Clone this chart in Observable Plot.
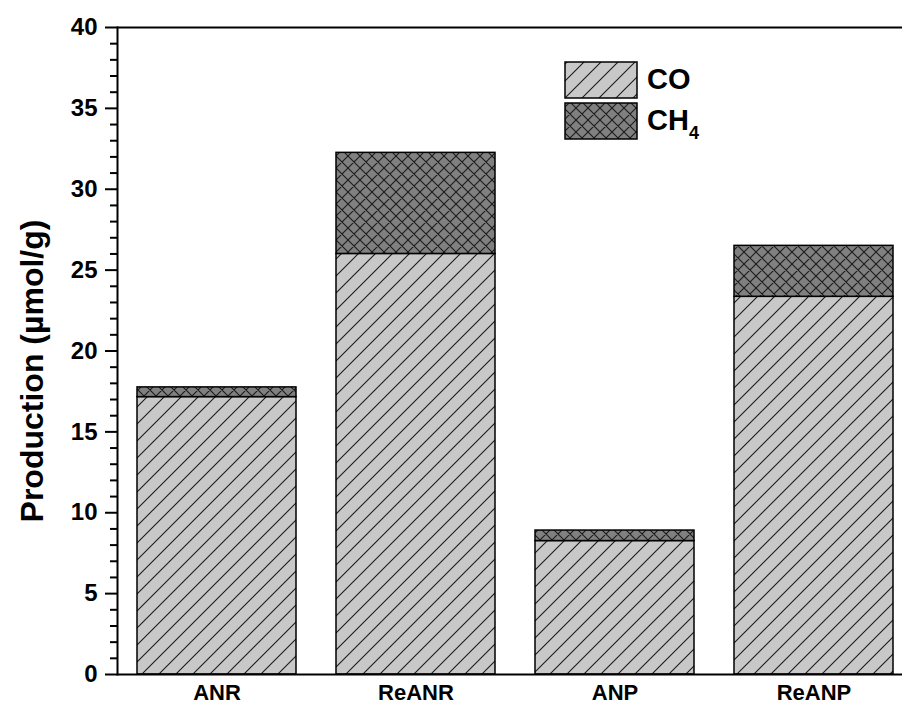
<!DOCTYPE html>
<html>
<head>
<meta charset="utf-8">
<script src="https://cdn.jsdelivr.net/npm/d3@7"></script>
<script src="https://cdn.jsdelivr.net/npm/@observablehq/plot@0.6"></script>
<style>
  html, body { margin: 0; padding: 0; overflow: hidden; background: #fff; }
  #wrap { position: relative; width: 902px; height: 704px; overflow: hidden; }
  #wrap > svg { max-width: none !important; }
  #legend { position: absolute; left: 0; top: 0; pointer-events: none; }
  text { font-family: Arial, "Liberation Sans", sans-serif; }
</style>
</head>
<body>
<div id="wrap"></div>
<script>
// ---- data ----
const categories = ["ANR", "ReANR", "ANP", "ReANP"];
const coValues = [17.15, 26.0, 8.25, 23.35];
const ch4Values = [0.6, 6.25, 0.65, 3.15];
const yMajorTicks = [0, 5, 10, 15, 20, 25, 30, 35, 40];
const yMinorTicks = d3.range(0, 41).filter(d => d % 5 !== 0);
const seriesLabels = ["CO", "CH4"];
const yLabel = "Production (µmol/g)";

const rows = categories.map((c, i) => ({
  cat: c, co: coValues[i], total: coValues[i] + ch4Values[i]
}));

const font = "Arial, 'Liberation Sans', sans-serif";

const chart = Plot.plot({
  width: 913,
  height: 704,
  marginLeft: 117,
  marginRight: 0,
  marginTop: 27,
  marginBottom: 30,
  style: { fontFamily: font, background: "transparent", maxWidth: "none" },
  x: { domain: categories, paddingInner: 0.2, paddingOuter: 0.1, label: null },
  y: { domain: [0, 40], label: null },
  marks: [
    Plot.barY(rows, { x: "cat", y1: 0, y2: "co", fill: "url(#hatchCO)", stroke: "black", strokeWidth: 1.5 }),
    Plot.barY(rows, { x: "cat", y1: "co", y2: "total", fill: "url(#hatchCH4)", stroke: "black", strokeWidth: 1.5 }),
    Plot.ruleY([0, 40], { stroke: "black", strokeWidth: 2 }),
    Plot.frame({ anchor: "left", stroke: "black", strokeWidth: 2 }),
    Plot.axisY({ ticks: yMajorTicks, tickSize: 12, tickPadding: 8, fontSize: 24, fontWeight: "bold", strokeWidth: 2, label: null }),
    Plot.axisY({ ticks: yMinorTicks, tickSize: 7, tickFormat: () => "", strokeWidth: 2, label: null }),
    Plot.axisX({ tickSize: 0, tickPadding: 10, fontSize: 22, fontWeight: "bold", label: null }),
    Plot.text([yLabel], { frameAnchor: "left", text: d => d, rotate: -90, textAnchor: "middle", lineAnchor: "bottom", dx: -75, dy: 20, fontSize: 32, fontWeight: "bold", fill: "black" })
  ]
});

const defs = `
<defs>
  <pattern id="hatchCO" patternUnits="userSpaceOnUse" width="17" height="17">
    <rect width="17" height="17" fill="#c8c8c8"/>
    <path d="M-4.25,4.25 L4.25,-4.25 M0,17 L17,0 M12.75,21.25 L21.25,12.75" stroke="#1a1a1a" stroke-width="1.1"/>
  </pattern>
  <pattern id="hatchCH4" patternUnits="userSpaceOnUse" width="12" height="12">
    <rect width="12" height="12" fill="#808080"/>
    <path d="M0,12 L12,0 M-3,3 L3,-3 M9,15 L15,9 M0,0 L12,12 M-3,9 L3,15 M9,-3 L15,3" stroke="#1a1a1a" stroke-width="1.1"/>
  </pattern>
</defs>`;
chart.insertAdjacentHTML("afterbegin", defs);
document.getElementById("wrap").appendChild(chart);

// ---- legend (overlay) ----
const leg = d3.select("#wrap").append("svg")
  .attr("id", "legend").attr("width", 902).attr("height", 704);
leg.html(`
<defs>
  <pattern id="legCO" patternUnits="userSpaceOnUse" width="17" height="17">
    <rect width="17" height="17" fill="#c8c8c8"/>
    <path d="M-4.25,4.25 L4.25,-4.25 M0,17 L17,0 M12.75,21.25 L21.25,12.75" stroke="#1a1a1a" stroke-width="1.1"/>
  </pattern>
  <pattern id="legCH4" patternUnits="userSpaceOnUse" width="12" height="12">
    <rect width="12" height="12" fill="#808080"/>
    <path d="M0,12 L12,0 M-3,3 L3,-3 M9,15 L15,9 M0,0 L12,12 M-3,9 L3,15 M9,-3 L15,3" stroke="#1a1a1a" stroke-width="1.1"/>
  </pattern>
</defs>`);
const legItems = [
  { fill: "url(#legCO)", y: 62, label: seriesLabels[0] },
  { fill: "url(#legCH4)", y: 103, label: seriesLabels[1] }
];
legItems.forEach(it => {
  leg.append("rect").attr("x", 565).attr("y", it.y).attr("width", 72).attr("height", 36)
    .attr("fill", it.fill).attr("stroke", "black").attr("stroke-width", 1.5);
  const t = leg.append("text").attr("x", 647).attr("y", it.y + 27)
    .attr("font-size", 29).attr("font-weight", "bold").attr("fill", "black")
    .style("font-family", font);
  if (it.label === "CH4") {
    t.append("tspan").text("CH");
    t.append("tspan").attr("font-size", 18).attr("dy", 9).text("4");
  } else {
    t.text(it.label);
  }
});
</script>
</body>
</html>
